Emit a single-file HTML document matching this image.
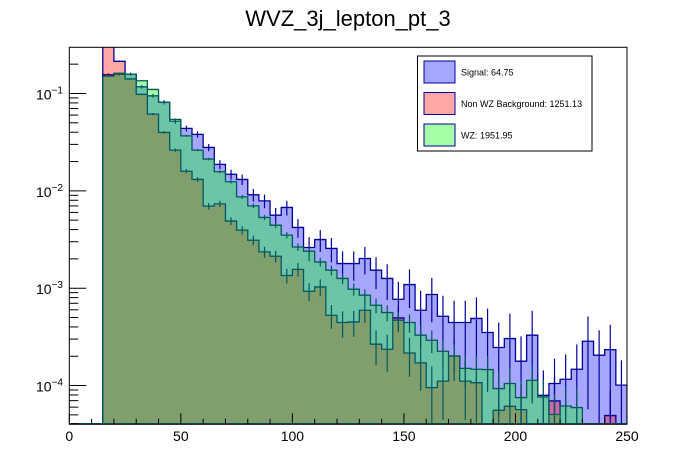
<!DOCTYPE html>
<html><head><meta charset="utf-8"><style>
html,body{margin:0;padding:0;background:#fff;}
svg{display:block;font-family:"Liberation Sans",sans-serif;}
</style></head><body>
<svg id="chart" width="696" height="472" viewBox="0 0 696 472">
<defs><clipPath id="frameClip"><rect x="69.3" y="47.3" width="557.7" height="377"/></clipPath></defs>
<text x="348" y="26" text-anchor="middle" font-size="22">WVZ_3j_lepton_pt_3</text>
<g id="plot" clip-path="url(#frameClip)"></g>
<rect x="69.3" y="47.3" width="557.7" height="377" fill="none" stroke="#000" stroke-width="1"/>
<g id="axes"></g>
<g>
<rect x="417.5" y="56" width="174.5" height="95" fill="#fff" stroke="#000" stroke-width="1"/>
<g>
<rect x="424" y="61" width="31" height="22" fill="rgb(166,166,255)" stroke="#000099" stroke-width="1"/>
<text x="461" y="75.5" font-size="9">Signal: 64.75</text></g>
<g>
<rect x="424" y="92.5" width="31" height="22" fill="rgb(255,166,166)" stroke="#000099" stroke-width="1"/>
<text x="461" y="107" font-size="9">Non WZ Background: 1251.13</text></g>
<g>
<rect x="424" y="124" width="31" height="22" fill="rgb(166,255,166)" stroke="#000099" stroke-width="1"/>
<text x="461" y="138.5" font-size="9">WZ: 1951.95</text></g>
</g>
</svg>
<script>
// bin lower edges (GeV), width 5, from 15 to 245
const binEdges = [15,20,25,30,35,40,45,50,55,60,65,70,75,80,85,90,95,100,105,110,115,120,125,130,135,140,145,150,155,160,165,170,175,180,185,190,195,200,205,210,215,220,225,230,235,240,245];
const signalValues = [0.156,0.157,0.158,0.117,0.0946,0.0811,0.052,0.0438,0.038,0.0279,0.0187,0.0148,0.0131,0.0091,0.00789,0.00562,0.00675,0.00421,0.00262,0.00316,0.00256,0.00179,0.00179,0.00202,0.00153,0.00126,0.00077,0.00109,0.000594,0.000861,0.000515,0.000444,0.000444,0.000489,0.000351,0.000246,0.000304,0.000178,0.000329,0.0000794,0.000105,0.000116,0.000147,0.000285,0.000205,0.000234,0.000101];
const nonWZValues = [0.45,0.214,0.141,0.098,0.0614,0.0398,0.0262,0.0159,0.0131,0.00697,0.00735,0.00489,0.00395,0.00311,0.00236,0.00213,0.00135,0.00156,0.000931,0.00103,0.000527,0.000444,0.00045,0.000594,0.000266,0.000236,0.000495,0.000216,0.000171,0.0000953,0.000111,0.000201,0.000111,0.000107,0,0.0000557,0.0000612,0.0000566,0,0,0.0000695,0,0,0,0,0.0000492,0];
const wzValues = [0.151,0.161,0.158,0.135,0.110,0.0811,0.0542,0.0367,0.0262,0.0212,0.0157,0.0124,0.00867,0.00701,0.00533,0.00444,0.00351,0.00265,0.0024,0.00186,0.00153,0.00126,0.000977,0.000848,0.000668,0.000562,0.000469,0.000444,0.000329,0.000292,0.000225,0.000201,0.00015,0.000147,0.000146,0.0000931,0.000105,0.0000753,0.000113,0.0000764,0.0000504,0.0000617,0.0000594,0,0,0,0];
const xTickLabels = [0,50,100,150,200,250];
const yDecadeExponents = [-1,-2,-3,-4];
const BIN_WIDTH = 5;

const X0=69.3, X1=627, Y0=424.3, Y1=47.3;
const XMIN=0, XMAX=250, YMIN=4e-5, YMAX=0.298;
const NS='http://www.w3.org/2000/svg';
function xs(v){return X0+(v-XMIN)/(XMAX-XMIN)*(X1-X0);}
function ys(v){ if(v<=YMIN) return Y0-0.5; const l=Math.log10(v); return Y0-(l-Math.log10(YMIN))/(Math.log10(YMAX)-Math.log10(YMIN))*(Y0-Y1);}
function mk(tag,attrs,parent){const e=document.createElementNS(NS,tag);for(const k in attrs)e.setAttribute(k,attrs[k]);parent.appendChild(e);return e;}

const plot=document.getElementById('plot');
const axes=document.getElementById('axes');

function drawHist(vals,fill,stroke,name,nEff){
  let d='M'+xs(XMIN)+','+(Y0-0.5)+' L'+xs(binEdges[0])+','+(Y0-0.5);
  for(let i=0;i<binEdges.length;i++){
    const y=ys(vals[i]);
    d+=' L'+xs(binEdges[i])+','+y+' L'+xs(binEdges[i]+BIN_WIDTH)+','+y;
  }
  d+=' L'+xs(XMAX)+','+(Y0-0.5)+' Z';
  const p=mk('path',{d:d,fill:fill,'fill-opacity':0.35,stroke:stroke,'stroke-width':1.3},plot);
  
  
  for(let i=0;i<binEdges.length;i++){
    const v=vals[i]; if(v<=0) continue;
    const rel=Math.min(0.8,1/Math.sqrt(v*nEff));
    const cx=xs(binEdges[i]+BIN_WIDTH/2);
    const e=mk('line',{x1:cx,x2:cx,y1:ys(v*(1+rel)),y2:ys(Math.max(v*(1-rel),YMIN*0.5)),stroke:stroke,'stroke-width':1.2},plot);
    
    
  }
}
drawHist(signalValues,'rgb(0,0,255)','#000099','signal',5000);
drawHist(nonWZValues,'rgb(255,0,0)','#000099','non-wz',25000);
drawHist(wzValues,'rgb(0,255,0)','#005a5a','wz',50000);

// x ticks
for(let v=0;v<=250;v+=10){
  const major=v%50===0;
  const t=mk('line',{x1:xs(v),x2:xs(v),y1:Y0,y2:Y0-(major?11:5.5),stroke:'#000','stroke-width':1},axes);
  
  
}
xTickLabels.forEach(v=>{
  const t=mk('text',{x:xs(v),y:441,'text-anchor':'middle','font-size':14},axes);
  t.textContent=String(v);
  
  
});
// y ticks
for(let e=-5;e<=-1;e++){
  for(let m=1;m<=9;m++){
    const v=m*Math.pow(10,e);
    if(v<YMIN||v>YMAX) continue;
    const y=ys(v);
    const t=mk('line',{x1:X0,x2:X0+(m===1?17:9),y1:y,y2:y,stroke:'#000','stroke-width':1},axes);
    
    
  }
}
yDecadeExponents.forEach(e=>{
  const y=ys(Math.pow(10,e));
  const t=mk('text',{x:36,y:y+6,'font-size':14},axes);
  t.textContent='10';
  const s=mk('tspan',{dy:-6,'font-size':10},t);
  s.textContent=String(e).replace('-','\u2212');
  
  
});
</script>
</body></html>
